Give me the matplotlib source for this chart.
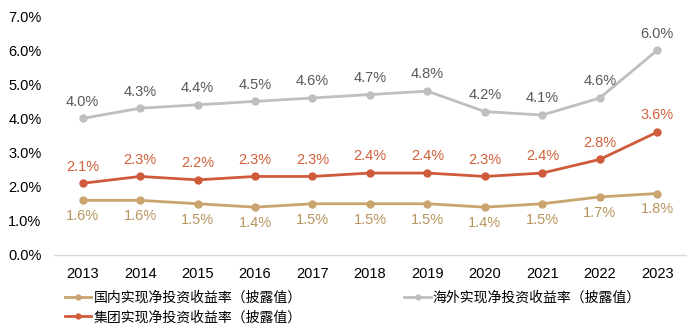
import numpy as np
import matplotlib.pyplot as plt
from matplotlib.ticker import PercentFormatter

plt.rcParams['font.family'] = ['Liberation Sans', 'Noto Sans CJK SC', 'DejaVu Sans']

years = ['2013', '2014', '2015', '2016', '2017', '2018', '2019', '2020', '2021', '2022', '2023']
domestic = [1.6, 1.6, 1.5, 1.4, 1.5, 1.5, 1.5, 1.4, 1.5, 1.7, 1.8]
overseas = [4.0, 4.3, 4.4, 4.5, 4.6, 4.7, 4.8, 4.2, 4.1, 4.6, 6.0]
group = [2.1, 2.3, 2.2, 2.3, 2.3, 2.4, 2.4, 2.3, 2.4, 2.8, 3.6]

names = ['国内实现净投资收益率（披露值）', '海外实现净投资收益率（披露值）', '集团实现净投资收益率（披露值）']

c_dom = '#C9A46F'
c_ovs = '#BFBFBF'
c_grp = '#CF5B3A'

fig = plt.figure(figsize=(7, 3.35), dpi=100)
ax = fig.add_axes([0.077, 0.239, 0.903, 0.713])

x = np.arange(len(years))
series = [
    (domestic, c_dom, names[0], '#B8955E', -11.5),
    (overseas, c_ovs, names[1], '#595959', 12),
    (group, c_grp, names[2], '#D0603A', 12),
]
handles = {}
for vals, col, name, tcol, dy in series:
    h, = ax.plot(x, vals, color=col, lw=2.0, marker='o', ms=5, label=name)
    handles[name] = h
    for xi, v in zip(x, vals):
        ax.annotate(f'{v:.1f}%', (xi, v), xytext=(0, dy), textcoords='offset points',
                    ha='center', va='center', fontsize=10.5, color=tcol)

ax.set_xlim(-0.5, len(years) - 0.5)
ax.set_ylim(0, 7)
ax.set_yticks(np.arange(0, 7.1, 1))
ax.yaxis.set_major_formatter(PercentFormatter(decimals=1))
ax.set_xticks(x)
ax.set_xticklabels(years)
ax.tick_params(axis='both', length=0, labelsize=10.5, colors='#000000')
ax.tick_params(axis='x', pad=9)
ax.tick_params(axis='y', pad=9)
for s in ['top', 'right', 'left']:
    ax.spines[s].set_visible(False)
ax.spines['bottom'].set_color('#D9D9D9')
ax.spines['bottom'].set_linewidth(1)

order = [names[0], names[2], names[1]]
fig.legend([handles[n] for n in order], order, ncol=2, loc='lower left',
           bbox_to_anchor=(0.075, -0.005), frameon=False, fontsize=10,
           handlelength=1.9, handletextpad=0.15, columnspacing=7.4,
           labelspacing=0.4, markerscale=0.7)

fig.savefig('out.png', dpi=100)
